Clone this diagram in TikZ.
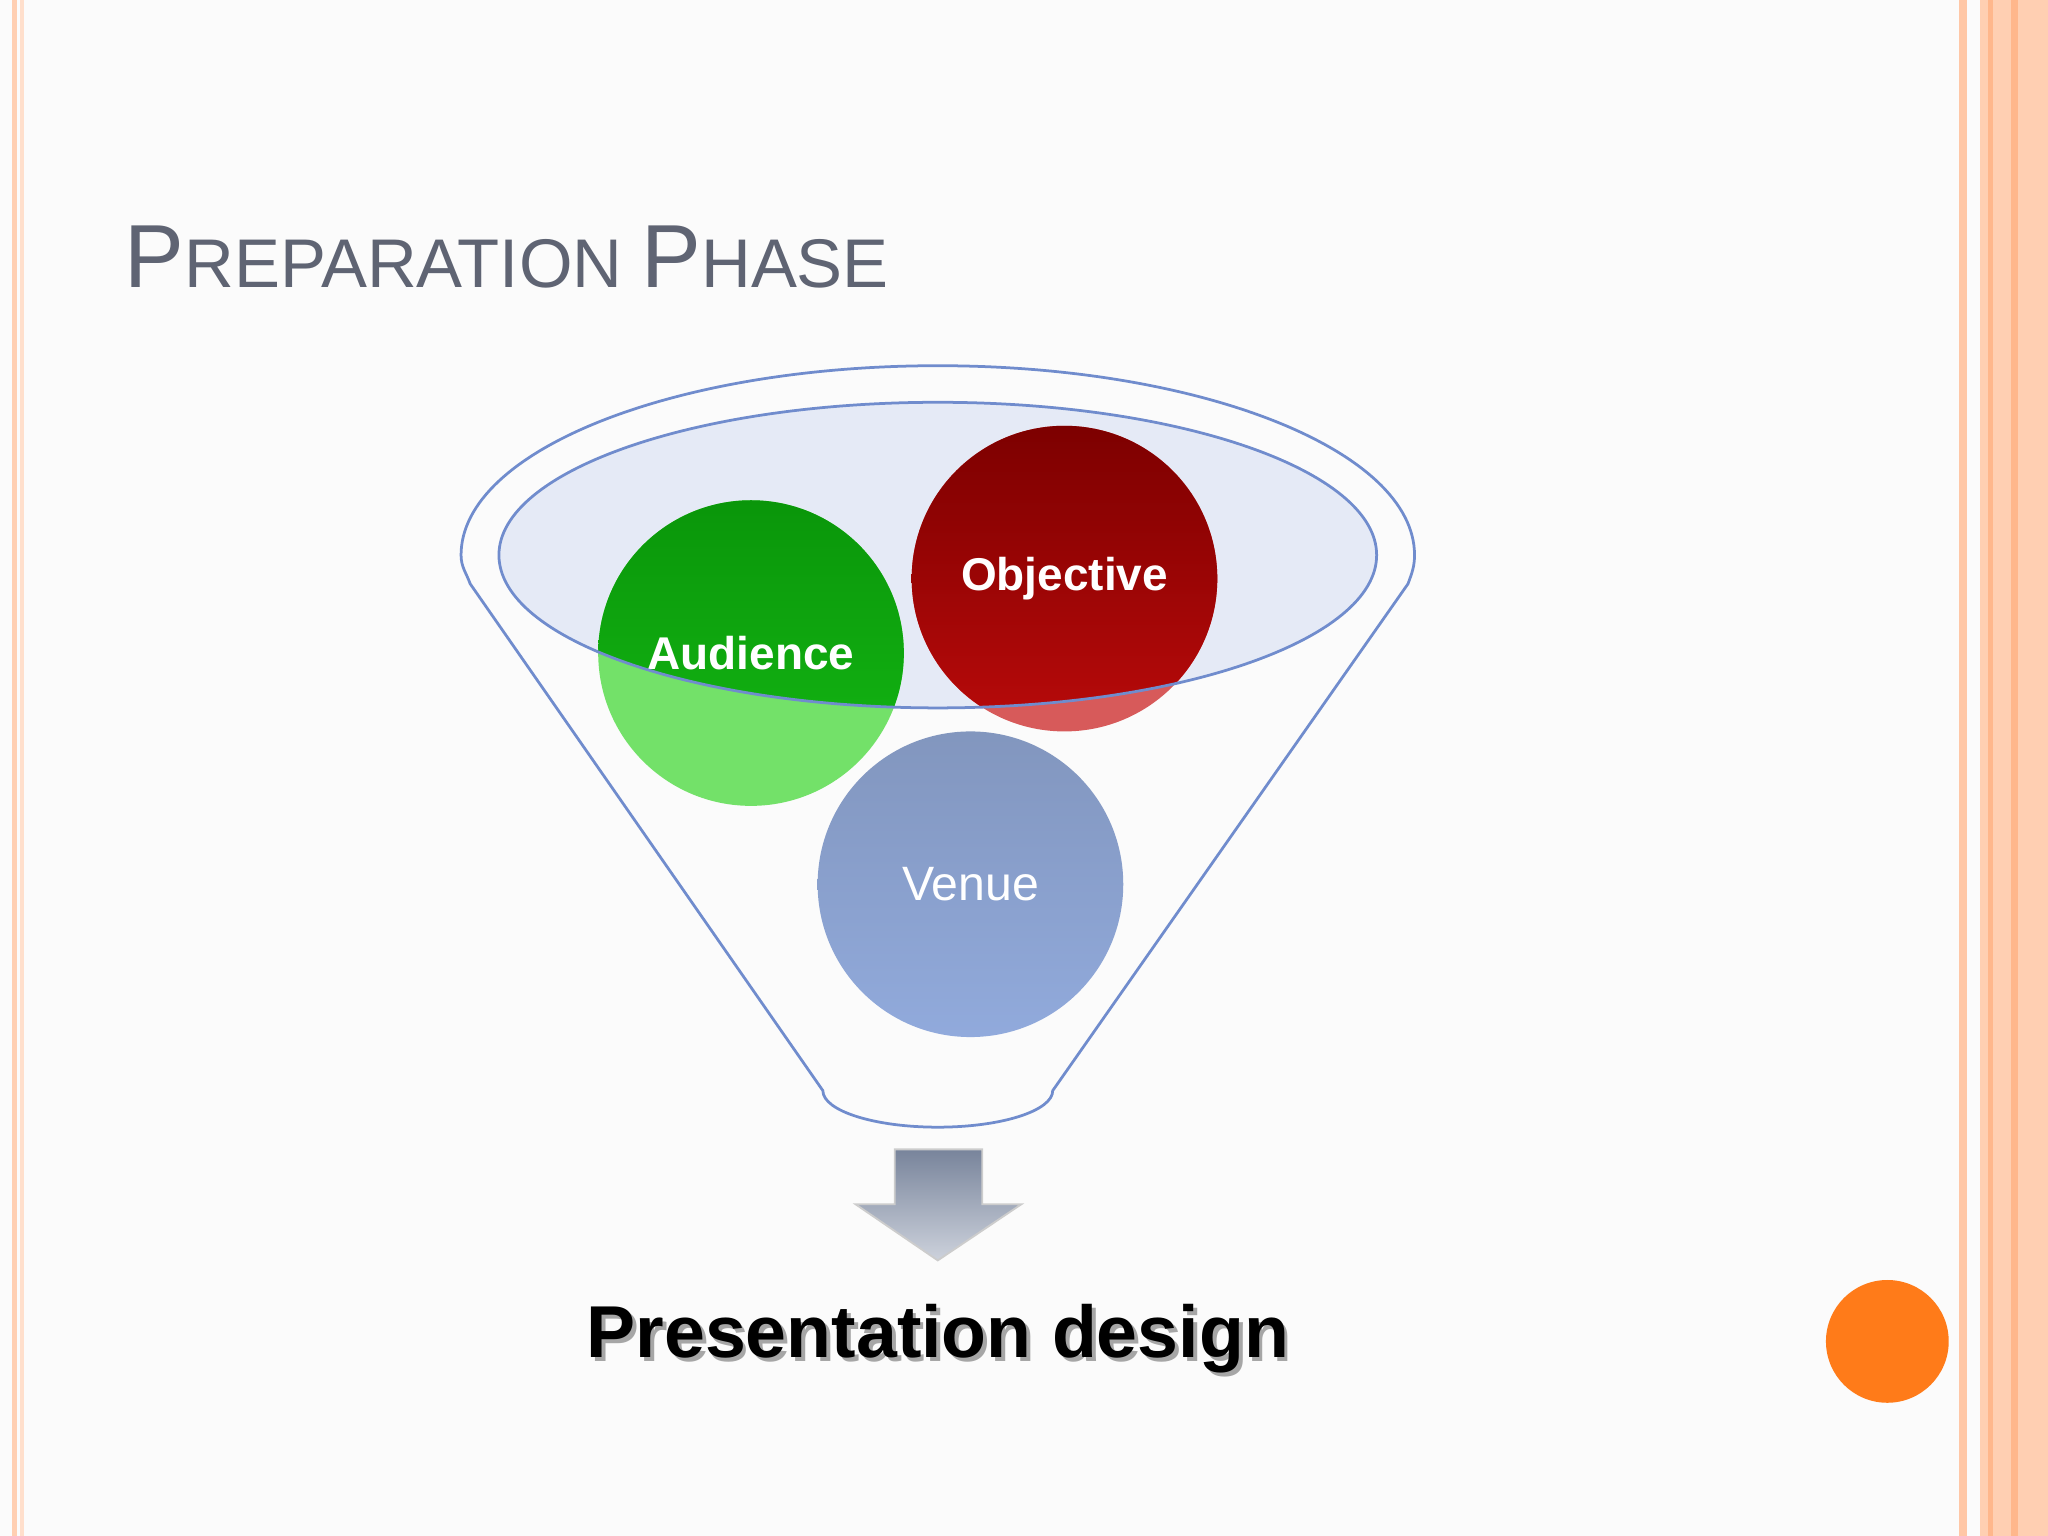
\documentclass[tikz,border=0pt]{standalone}
\usepackage{fontspec}
\setmainfont{Liberation Sans}
\definecolor{fline}{RGB}{112,140,205}
\definecolor{gdark}{RGB}{20,185,20}
\definecolor{gtop}{RGB}{10,150,10}
\definecolor{glight}{RGB}{115,225,105}
\definecolor{rdark}{RGB}{185,10,10}
\definecolor{rtop}{RGB}{125,0,0}
\definecolor{rlight}{RGB}{215,90,90}
\definecolor{vtop}{RGB}{130,150,190}
\definecolor{vbot}{RGB}{145,170,220}
\definecolor{ttl}{RGB}{95,100,115}
\definecolor{atop}{RGB}{120,132,155}
\definecolor{abot}{RGB}{205,210,220}
\begin{document}
\begin{tikzpicture}[x=0.01cm,y=-0.01cm,
  funnel/.style={draw=fline,line width=0.6pt},
  lab/.style={text=white,font=\bfseries\fontsize{10}{12}\selectfont}]
\useasboundingbox (0,0) rectangle (1568,1176);
\fill[white!97!gray] (0,0) rectangle (1568,1176);
% borders
\fill[red!25!orange!30] (9,0) rectangle (13,1176);
\fill[red!25!orange!20] (15,0) rectangle (18,1176);
\fill[red!25!orange!35] (1500,0) rectangle (1506,1176);
\fill[red!25!orange!30] (1516,0) rectangle (1568,1176);
\fill[red!25!orange!45] (1522,0) rectangle (1526,1176);
\fill[red!25!orange!45] (1540,0) rectangle (1545,1176);
% title
\node[anchor=base west,text=ttl,inner sep=0pt] (title) at (95,220)
 {\fontsize{19.5}{22}\selectfont P\fontsize{15}{18}\selectfont REPARATION \fontsize{19.5}{22}\selectfont P\fontsize{15}{18}\selectfont HASE};
% funnel outer
\draw[funnel] (1083,425) arc[start angle=0,end angle=-180,x radius=365,y radius=145]
  to[out=-90,in=110] (360,447) -- (630,835) arc[start angle=180,end angle=0,x radius=88,y radius=28] -- (1078,447) to[out=70,in=-90] (1083,425);
% inner ellipse fill
\fill[fline!18] (718,425) ellipse[x radius=336,y radius=117];
% circles
\begin{scope}
\fill[glight] (575,500) circle (117);
\fill[rlight] (815,443) circle (117);
\clip (718,425) ellipse[x radius=336,y radius=117];
\shade[top color=gtop,bottom color=gdark] (575,500) circle (117);
\shade[top color=rtop,bottom color=rdark] (815,443) circle (117);
\end{scope}
\shade[top color=vtop,bottom color=vbot] (743,677) circle (117);
\node[lab] (aud) at (575,500) {Audience};
\node[lab] (obj) at (815,443) {Objective};
\node[text=white,font=\fontsize{10.5}{13}\selectfont] (ven) at (743,677) {Venue};
\draw[funnel] (718,425) ellipse[x radius=336,y radius=117];
% arrow
\shade[top color=atop,bottom color=abot,draw=gray!40] (685,880) -- (752,880) -- (752,922) -- (782,922) -- (718,965) -- (655,922) -- (685,922) -- cycle;
\node[font=\bfseries\fontsize{16}{20}\selectfont,text=gray!70] (pds) at (721,1028) {Presentation design};
\node[font=\bfseries\fontsize{16}{20}\selectfont] (pd) at (718,1025) {Presentation design};
\fill[orange!85!red!90] (1445,1027) circle (47);
\end{tikzpicture}
\end{document}
